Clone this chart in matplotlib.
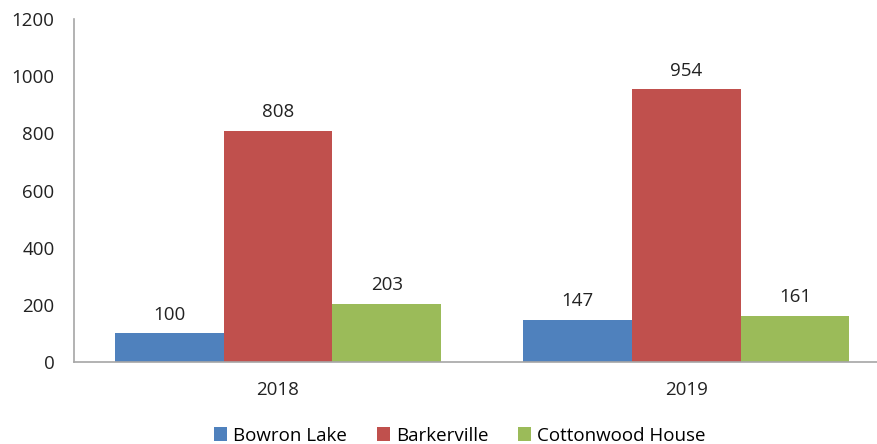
import matplotlib
matplotlib.use("Agg")
import matplotlib.pyplot as plt
import numpy as np

years = ["2018", "2019"]
series = ["Bowron Lake", "Barkerville", "Cottonwood House"]
bowron = [100, 147]
barkerville = [808, 954]
cottonwood = [203, 161]
colors = ["#4F81BD", "#C0504D", "#9BBB59"]

plt.rcParams["font.family"] = ["Open Sans", "DejaVu Sans"]

fig = plt.figure(figsize=(8.78, 4.44), dpi=100)
ax = fig.add_axes([74 / 878, 1 - 362 / 444, 1 - 74 / 878, 343 / 444])

x = np.arange(len(years))
width = 0.8 / 3
for i, (name, vals) in enumerate(zip(series, [bowron, barkerville, cottonwood])):
    bars = ax.bar(x + (i - 1) * width, vals, width, color=colors[i], label=name)
    for b, v in zip(bars, vals):
        ax.annotate(str(v), (b.get_x() + b.get_width() / 2, v),
                    xytext=(0, 7), textcoords="offset points",
                    ha="center", va="bottom", fontsize=13.5, color="#222222")

ax.set_xlim(-0.5, 1.47)
ax.set_ylim(0, 1200)
ax.set_yticks(range(0, 1201, 200))
ax.set_xticks(x)
ax.set_xticklabels(years)
ax.tick_params(axis="both", length=0, labelsize=13.5, colors="#222222")
ax.tick_params(axis="y", pad=14)
ax.tick_params(axis="x", pad=14)
for s in ["top", "right"]:
    ax.spines[s].set_visible(False)
for s in ["left", "bottom"]:
    ax.spines[s].set_color("#A6A6A6")
    ax.spines[s].set_linewidth(1.2)

ax.legend(loc="lower center", bbox_to_anchor=(0.48, -0.29), ncol=3,
          frameon=False, fontsize=13.5, handlelength=0.7, handleheight=0.7,
          handletextpad=0.3, columnspacing=1.6)

fig.savefig("out.png", dpi=100)
